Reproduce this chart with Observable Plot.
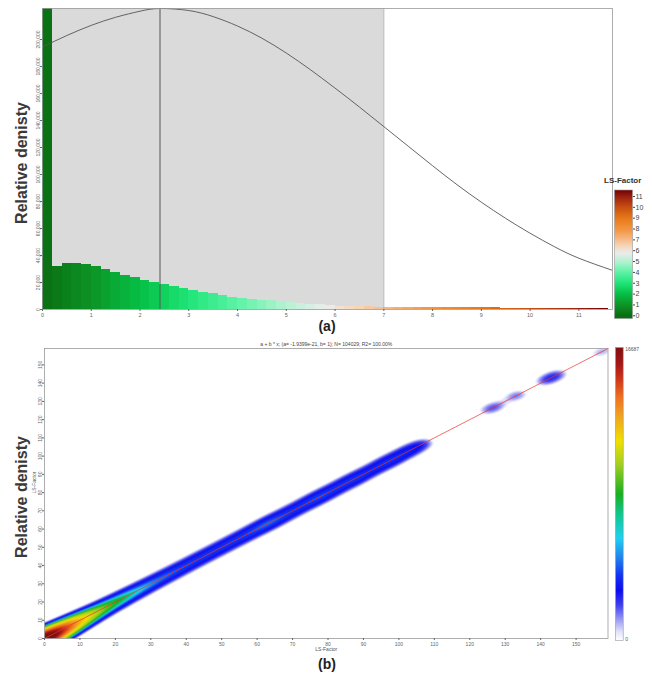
<!DOCTYPE html>
<html><head><meta charset="utf-8">
<script src="https://cdn.jsdelivr.net/npm/d3@7"></script>
<script src="https://cdn.jsdelivr.net/npm/@observablehq/plot@0.6"></script>
<style>
html,body{margin:0;padding:0;background:#fff;}
#root{position:relative;width:652px;height:677px;overflow:hidden;font-family:"Liberation Sans",Arial,sans-serif;}
#root > *{position:absolute;}
.big{font-weight:bold;font-size:16px;color:#3a3a3a;white-space:nowrap;transform:translate(-50%,-50%) rotate(-90deg);}
.panel{font-weight:bold;font-size:14px;color:#222;transform:translate(-50%,-50%);}
.legtitle{font-weight:bold;font-size:8px;color:#333;white-space:nowrap;}
</style></head><body><div id="root"></div>
<script>
// ---------------- DATA ----------------
// (a) histogram of LS-Factor, bins of width 0.2 starting at 0
const binWidth = 0.2;
const histCounts = [230000,31500,33800,34000,33300,32000,29800,27400,25400,23400,
  21700,20000,18500,16700,15500,14100,12600,11600,10400,9100,
  8400,7700,7000,6400,5700,5000,4500,4000,3500,3000,
  2500,2300,2100,2000,1850,1700,1650,1600,1550,1500,
  1450,1400,1350,1300,1250,1200,1150,1100,1050,1000,
  950,900,850,800,750,650,550,450,350];
// (a) fitted normal curve
const curveX = [0,0.5,1,1.5,2,2.41,3,3.5,4,4.5,5,5.5,6,6.5,7,7.5,8,8.5,9,9.5,10,10.5,11,11.69];
const curveY = [194500,203000,210500,216500,221000,223000,221500,217000,210000,201000,190000,177500,
  164000,150000,135500,121000,106500,92500,79500,67500,56500,46500,38000,29000];
const meanValue = 2.41;
const shadeRange = [0, 7];
const topXTicks = [0,1,2,3,4,5,6,7,8,9,10,11];
const topYTicks = [0,20000,40000,60000,80000,100000,120000,140000,160000,180000,200000];
const lsLegendTicks = [0,1,2,3,4,5,6,7,8,9,10,11];
const lsStops  = [0,1,2,3,4,5,5.8,6.5,7.2,8,9,10,11,11.6];
const lsColors = ["#0a6e12","#0c9426","#06bf45","#1ee577","#5cf2a6","#b4f2d2","#ececec","#f6d4b4","#f5b27a","#f2943e","#e8781a","#c85010","#9a2010","#700000"];

// (b) density of LS-Factor vs LS-Factor along the 1:1 line
const diagLS = [...d3.range(0, 109), 124,125,126,127,128,129,131,132,133,134,135,140,141,142,143,144,145,146,155,156,157,158,159];
const diagCounts = [30000,25000,20000,17000,14500,12000,9800,8000,6500,5400,
  4500,3800,3200,2700,2350,2050,1800,1620,1470,1350,
  1250,1160,1090,1020,960,905,860,815,780,745,
  715,688,666,646,630,615,600,590,580,570,
  562,556,550,546,542,540,538,536,534,532,
  532,532,534,536,540,545,552,560,572,588,
  606,624,638,645,640,622,598,575,556,540,
  530,525,525,532,545,562,580,592,592,578,
  558,538,522,515,520,532,544,546,536,515,
  492,470,456,455,468,490,510,516,506,488,
  470,460,452,440,420,380,320,240,160,
  110,170,210,210,170,110,100,160,190,160,100,130,200,260,290,260,200,130,80,110,130,130,120];
const fit = {a: -1.9399e-21, b: 1};
const fitTitle = "a + b * x; (a= -1.9399e-21, b= 1); N= 104029; R2= 100.00%";
const fitX = [0, 159];
const bottomTicks = [0,10,20,30,40,50,60,70,80,90,100,110,120,130,140,150];
const densityMax = 16687;
const densityLegendValues = [0, 16687];
const jetStops  = [0,0.03,0.07,0.12,0.17,0.22,0.28,0.35,0.43,0.5,0.6,0.68,0.77,0.83,0.89,0.94,1];
const densStops = [0,0.06,0.13,0.21,0.3,0.39,0.43,0.46,0.49,0.53,0.62,0.72,0.8,0.86,0.92,0.96,1];
const jetColors = ["#ffffff","#e2e2fb","#9c9cf4","#4040f0","#0c0cf0","#1232f0","#2080f0","#20d0f0","#10c890","#18b020","#a0d020","#f0e000","#f0a020","#f07020","#d03818","#a81818","#801010"];

// ---------------- RENDER ----------------
const root = document.getElementById("root");
const font = "Liberation Sans, Arial, sans-serif";
const baseStyle = {fontFamily: font, background: "transparent", overflow: "visible"};
function place(el, left, top) { el.style.left = left + "px"; el.style.top = top + "px"; root.appendChild(el); return el; }
function label(text, cls, left, top) { const d = document.createElement("div"); d.className = cls; d.textContent = text; return place(d, left, top); }

const lsColor = {type: "linear", domain: lsStops, range: lsColors, interpolate: "rgb", clamp: true};
const yMaxTop = 223000;
const histData = histCounts.map((v, i) => ({x1: i * binWidth, x2: (i + 1) * binWidth, mid: (i + 0.5) * binWidth, v}));
const curveData = curveX.map((x, i) => ({x, y: curveY[i]}));

const topPlot = Plot.plot({
  width: 613, height: 330, marginLeft: 42, marginRight: 1, marginTop: 8, marginBottom: 21,
  style: baseStyle,
  x: {domain: [0, 11.69]},
  y: {domain: [0, yMaxTop]},
  color: lsColor,
  marks: [
    Plot.rect([shadeRange], {x1: d => d[0], x2: d => d[1], y1: 0, y2: yMaxTop, fill: "#dadada"}),
    Plot.rect(histData, {x1: "x1", x2: "x2", y1: 0, y2: "v", fill: "mid", clip: true, shapeRendering: "crispEdges"}),
    Plot.ruleX([shadeRange[1]], {y1: 0, y2: yMaxTop, stroke: "#b4b4b4", strokeWidth: 1}),
    Plot.ruleX([meanValue], {y1: 0, y2: yMaxTop, stroke: "#555", strokeWidth: 1}),
    Plot.line(curveData, {x: "x", y: "y", curve: "natural", stroke: "#555", strokeWidth: 0.9, clip: true}),
    Plot.frame({stroke: "#999", strokeWidth: 0.8}),
    Plot.axisX({ticks: topXTicks, tickSize: 2, tickPadding: 2, fontSize: 5.5, label: null, color: "#666"}),
    Plot.axisY({ticks: topYTicks, tickSize: 2, tickPadding: 1, fontSize: 5, tickRotate: -90, label: null, color: "#666"})
  ]
});
place(topPlot, 0, 0);

const lsLegend = Plot.plot({
  width: 52, height: 145, marginLeft: 14, marginRight: 20, marginTop: 9.5, marginBottom: 7,
  style: baseStyle,
  x: {domain: [0, 1], axis: null},
  y: {domain: [-0.25, 11.6]},
  color: lsColor,
  marks: [
    Plot.raster({fill: (x, y) => y, x1: 0, x2: 1, y1: -0.25, y2: 11.6}),
    Plot.frame({stroke: "#999", strokeWidth: 0.6}),
    Plot.axisY({anchor: "right", ticks: lsLegendTicks, tickSize: 2, tickPadding: 1, fontSize: 7, label: null, color: "#444"})
  ]
});
place(lsLegend, 600, 180);
label("LS-Factor", "legtitle", 604, 176);

// bottom density (gaussian kernel along the 1:1 line, log colour scale)
const sig = 2.0, kk = 1 / (2 * sig * sig), norm = 1 / (sig * Math.sqrt(Math.PI));
const densityFloor = 61;
function dens(x, y) {
  if (Math.abs(x - y) > 18) return 1;
  let s = 0;
  for (let i = 0; i < diagLS.length; i++) {
    const v = diagLS[i], dx = x - v, dy = y - v, r2 = dx * dx + dy * dy;
    if (r2 > 260) continue;
    s += diagCounts[i] * Math.exp(-r2 * kk);
  }
  return Math.max(1, s * norm);
}
const jetScale = d3.scaleLinear().domain(jetStops).range(jetColors).interpolate(d3.interpolateRgb).clamp(true);
const densScale = d3.scaleLinear().domain(densStops).range(jetColors).interpolate(d3.interpolateRgb).clamp(true);
const jet = t => jetScale(t);
const jetDensity = t => densScale(t);

const fitData = fitX.map(x => ({x, y: fit.a + fit.b * x}));
const bottomPlot = Plot.plot({
  width: 609, height: 328, marginLeft: 44, marginRight: 1.5, marginTop: 16, marginBottom: 22,
  style: baseStyle,
  x: {domain: [0, 159]},
  y: {domain: [0, 159]},
  color: {type: "log", domain: [densityFloor, densityMax], interpolate: jetDensity, clamp: true},
  marks: [
    Plot.raster({fill: dens, x1: 0, x2: 159, y1: 0, y2: 159}),
    Plot.line(fitData, {x: "x", y: "y", stroke: "#e8342a", strokeWidth: 0.7}),
    Plot.frame({stroke: "#999", strokeWidth: 0.8}),
    Plot.text([fitTitle], {frameAnchor: "top", lineAnchor: "bottom", dy: -3, fontSize: 5, fill: "#444"}),
    Plot.axisX({ticks: bottomTicks, tickSize: 2, tickPadding: 2, fontSize: 5, label: null, color: "#666"}),
    Plot.axisY({ticks: bottomTicks, tickSize: 2, tickPadding: 1, fontSize: 5, tickRotate: -90, label: null, color: "#666"}),
    Plot.text(["LS-Factor"], {frameAnchor: "bottom", lineAnchor: "top", dy: 9, fontSize: 5, fill: "#555"}),
    Plot.text(["LS-Factor"], {frameAnchor: "left", rotate: -90, dx: -10, fontSize: 5, fill: "#555"})
  ]
});
place(bottomPlot, 0, 332);

const densLegend = Plot.plot({
  width: 45, height: 305, marginLeft: 8, marginRight: 29.3, marginTop: 7, marginBottom: 5,
  style: baseStyle,
  x: {domain: [0, 1], axis: null},
  y: {domain: [0, densityMax], axis: null},
  color: {type: "linear", domain: [0, densityMax], interpolate: jet},
  marks: [
    Plot.raster({fill: (x, y) => y, x1: 0, x2: 1, y1: 0, y2: densityMax}),
    Plot.frame({stroke: "#999", strokeWidth: 0.6}),
    Plot.text(densityLegendValues.slice(1), {x: 1, y: d => d, text: d => String(d), dx: 2, textAnchor: "start", lineAnchor: "top", fontSize: 5, fill: "#555"}),
    Plot.text(densityLegendValues.slice(0, 1), {x: 1, y: d => d, text: d => String(d), dx: 2, textAnchor: "start", lineAnchor: "bottom", fontSize: 5, fill: "#555"})
  ]
});
place(densLegend, 607, 340);

label("Relative denisty", "big", 22, 163);
label("Relative denisty", "big", 22, 497);
label("(a)", "panel", 327, 326);
label("(b)", "panel", 327, 664);
</script>
</body></html>
